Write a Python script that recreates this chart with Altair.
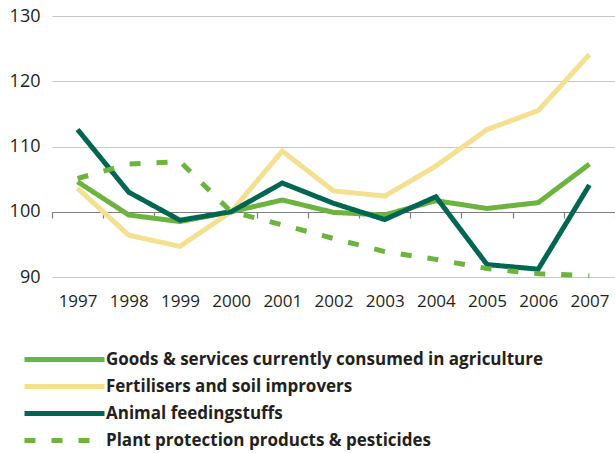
import altair as alt
import pandas as pd

years = ["1997", "1998", "1999", "2000", "2001", "2002", "2003", "2004", "2005", "2006", "2007"]

series_names = [
    "Goods & services currently consumed in agriculture",
    "Fertilisers and soil improvers",
    "Animal feedingstuffs",
    "Plant protection products & pesticides",
]

goods = [104.6, 99.5, 98.5, 100.0, 101.8, 99.9, 99.5, 101.7, 100.5, 101.4, 107.3]
fertilisers = [103.6, 96.4, 94.7, 100.0, 109.3, 103.2, 102.4, 107.0, 112.6, 115.5, 124.1]
feed = [112.6, 103.0, 98.7, 100.0, 104.4, 101.3, 98.8, 102.3, 91.9, 91.2, 104.1]
plant = [105.1, 107.3, 107.7, 100.0, 98.0, 95.9, 93.9, 92.7, 91.3, 90.5, 90.2]

colors = ["#6cb33f", "#f3e191", "#006652", "#6cb33f"]
dashes = [[1, 0], [1, 0], [1, 0], [11, 16]]

rows = []
for name, vals in zip(series_names, [goods, fertilisers, feed, plant]):
    for y, v in zip(years, vals):
        rows.append({"year": y, "index": v, "series": name})
df = pd.DataFrame(rows)

FONT = "Open Sans"
TEXT = "#231f20"

# Long horizontal swatch: path units are scaled by sqrt(symbolSize) / 2
legend = alt.Legend(
    title=None,
    orient="none",
    legendX=-30,
    legendY=331,
    symbolType="M-1,0H7",
    symbolSize=400,
    symbolStrokeWidth=5,
    labelFont=FONT,
    labelFontSize=17,
    labelFontWeight="bold",
    labelColor=TEXT,
    labelLimit=700,
    labelOffset=59,
    rowPadding=4,
)

chart = alt.Chart(df).mark_line(strokeWidth=5, strokeCap="butt", strokeJoin="miter").encode(
    x=alt.X(
        "year:O",
        sort=years,
        scale=alt.Scale(type="band", paddingInner=0, paddingOuter=0),
        axis=alt.Axis(
            title=None,
            offset=-65,
            domain=True,
            domainColor="#7d7d7d",
            domainWidth=1.2,
            ticks=True,
            tickBand="extent",
            tickSize=6,
            tickWidth=1.2,
            tickColor="#7d7d7d",
            labelPadding=75,
            labelFont=FONT,
            labelFontSize=17,
            labelColor=TEXT,
            labelAngle=0,
            grid=False,
            zindex=0,
        ),
    ),
    y=alt.Y(
        "index:Q",
        scale=alt.Scale(domain=[90, 130], nice=False, zero=False),
        axis=alt.Axis(
            title=None,
            values=[90, 100, 110, 120, 130],
            domain=False,
            ticks=False,
            grid=True,
            gridColor="#c6c6c6",
            gridWidth=1,
            labelPadding=12,
            labelFont=FONT,
            labelFontSize=18,
            labelColor=TEXT,
        ),
    ),
    color=alt.Color(
        "series:N",
        sort=series_names,
        scale=alt.Scale(domain=series_names, range=colors),
        legend=legend,
    ),
    strokeDash=alt.StrokeDash(
        "series:N",
        sort=series_names,
        scale=alt.Scale(domain=series_names, range=dashes),
        legend=legend,
    ),
).properties(
    width=563,
    height=261,
    padding={"left": 52, "top": 16, "right": 0, "bottom": 176},
    autosize=alt.AutoSizeParams(type="none"),
).configure_view(stroke=None)

chart.save("out.html", embed_options={"renderer": "svg", "actions": False})
